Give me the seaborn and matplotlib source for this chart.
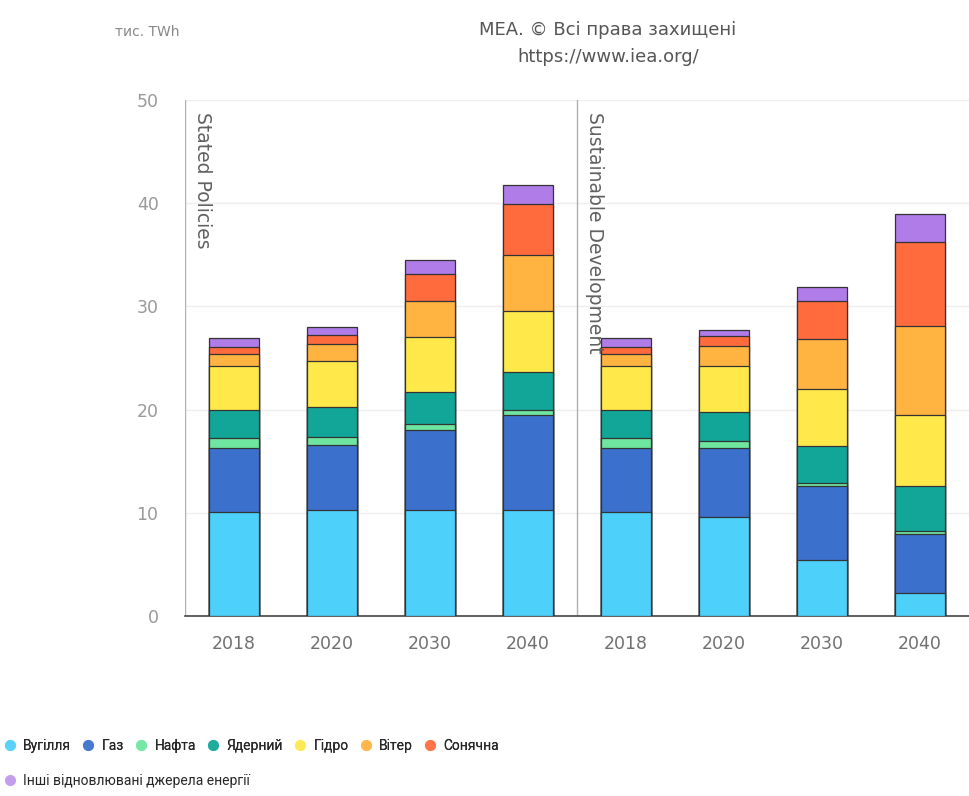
import numpy as np
import pandas as pd
import matplotlib
matplotlib.use("Agg")
import matplotlib.pyplot as plt
from matplotlib.lines import Line2D
import seaborn as sns

years = ["2018", "2020", "2030", "2040"]
scenarios = ["Stated Policies", "Sustainable Development"]
sources = ["Вугілля", "Газ", "Нафта", "Ядерний", "Гідро", "Вітер", "Сонячна",
           "Інші відновлювані джерела енергії"]
colors = ["#4dd0fa", "#3b71cc", "#6ee6a0", "#12a698", "#ffe94a", "#ffb340", "#ff6b3d", "#b07ce8"]

# values per source: Stated Policies (2018, 2020, 2030, 2040) + Sustainable Development (same years)
coal    = [10.1, 10.3, 10.3, 10.3, 10.1, 9.6, 5.4, 2.2]
gas     = [6.2, 6.3, 7.7, 9.2, 6.2, 6.7, 7.2, 5.7]
oil     = [0.9, 0.7, 0.6, 0.5, 0.9, 0.7, 0.3, 0.3]
nuclear = [2.8, 3.0, 3.1, 3.6, 2.8, 2.8, 3.6, 4.4]
hydro   = [4.2, 4.4, 5.3, 6.0, 4.2, 4.4, 5.5, 6.9]
wind    = [1.2, 1.7, 3.5, 5.4, 1.2, 2.0, 4.8, 8.6]
solar   = [0.7, 0.8, 2.6, 4.9, 0.7, 0.9, 3.7, 8.1]
other   = [0.8, 0.8, 1.4, 1.9, 0.8, 0.65, 1.4, 2.8]

series = [coal, gas, oil, nuclear, hydro, wind, solar, other]
slots = [f"{s[:2]} {y}" for s in scenarios for y in years]
tick_labels = years * 2

rows = []
for src, vals in zip(sources, series):
    for slot, v in zip(slots, vals):
        rows.append({"slot": slot, "source": src, "value": v})
df = pd.DataFrame(rows)
df["cum"] = df.groupby("slot")["value"].cumsum()

sns.set_theme(style="white")
plt.rcParams["font.family"] = ["Roboto", "DejaVu Sans"]

fig = plt.figure(figsize=(9.69, 7.96), dpi=100)
ax = fig.add_axes([185 / 969, 1 - 616 / 796, 1 - 185 / 969, (616 - 100) / 796])

# draw cumulative bars from the top layer down so each segment shows
for src, col in reversed(list(zip(sources, colors))):
    sub = df[df["source"] == src]
    sns.barplot(data=sub, x="slot", y="cum", order=slots, color=col, width=0.51,
                edgecolor="#333333", linewidth=0.9, saturation=1, ax=ax, zorder=3)

ax.set_ylim(0, 50)
ax.set_xlim(-0.5, 7.5)
ax.set_yticks([0, 10, 20, 30, 40, 50])
ax.yaxis.grid(True, color="#eeeeee", linewidth=1)
ax.set_axisbelow(True)
for s in ["top", "right", "left"]:
    ax.spines[s].set_visible(False)
ax.spines["bottom"].set_color("#444444")
ax.spines["bottom"].set_linewidth(1.2)
ax.set_xlabel("")
ax.set_ylabel("")
ax.set_xticks(range(8))
ax.set_xticklabels(tick_labels, family="DejaVu Sans")
ax.set_xticks(np.arange(-0.5, 8.0, 1.0), minor=True)
ax.tick_params(axis="x", which="major", length=0, pad=14, labelsize=12.5, labelcolor="#707070")
ax.tick_params(axis="x", which="minor", length=12, width=1.2, color="#444444", direction="out")
ax.tick_params(axis="y", length=0, pad=19, labelsize=12.5, labelcolor="#999999")
for lab in ax.get_yticklabels():
    lab.set_family("DejaVu Sans")

# scenario dividers and labels
for xpos, label in [(-0.5, scenarios[0]), (3.5, scenarios[1])]:
    ax.axvline(xpos, color="#b0b0b0", linewidth=1, zorder=1)
    ax.text(xpos + 0.08, 48.8, label, rotation=270, va="top", ha="left",
            fontsize=13.5, color="#606060", family="DejaVu Sans")

fig.text(115 / 969, 1 - 32 / 796, "тис. TWh", fontsize=10, color="#888888", va="center",
         family="DejaVu Sans")
fig.text(608 / 969, 1 - 30 / 796, "МЕА. © Всі права захищені", fontsize=13,
         color="#555555", ha="center", va="center", family="DejaVu Sans")
fig.text(608 / 969, 1 - 57 / 796, "https://www.iea.org/", fontsize=13,
         color="#555555", ha="center", va="center", family="DejaVu Sans")

handles = [Line2D([], [], marker="o", linestyle="", markersize=8, markerfacecolor=c,
                  markeredgecolor="none", alpha=0.75) for c in colors]
leg_kw = dict(loc="center left", frameon=False, handletextpad=0.45,
              handlelength=1.0, borderaxespad=0, borderpad=0.2,
              prop={"family": "Roboto", "size": 10})
leg1 = fig.legend(handles[:7], sources[:7], bbox_to_anchor=(0.0, 1 - 746 / 796),
                  ncol=7, columnspacing=0.75, **leg_kw)
leg2 = fig.legend(handles[7:], sources[7:], bbox_to_anchor=(0.0, 1 - 781 / 796),
                  ncol=1, **leg_kw)
fig.add_artist(leg1)

fig.savefig("out.png", dpi=100)
